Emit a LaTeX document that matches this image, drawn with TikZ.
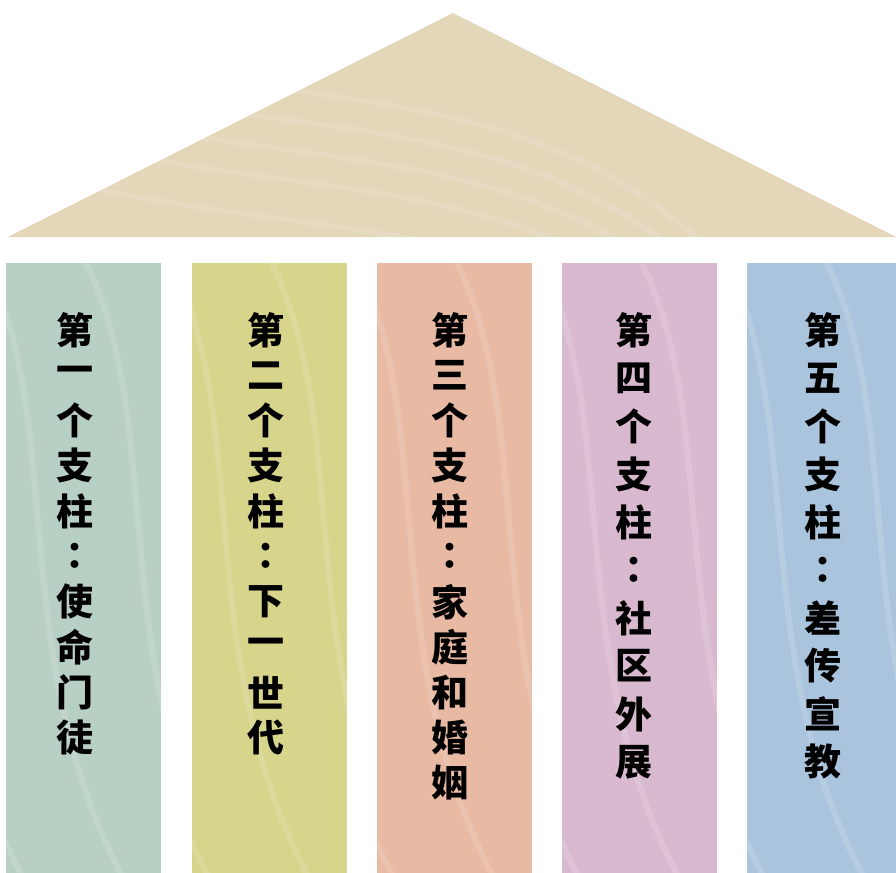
\documentclass[tikz,border=0pt]{standalone}
\usepackage{fontspec}
\newfontfamily\cjk{Noto Sans CJK SC}
\newfontfamily\cjktc{Noto Sans CJK TC}
\newcommand{\cnc}{{\cjktc ：}}
\definecolor{roofc}{HTML}{E3D6B9}
\definecolor{pgreen}{HTML}{B8CFC3}
\definecolor{pyellow}{HTML}{D6D58B}
\definecolor{porange}{HTML}{E8B9A3}
\definecolor{ppink}{HTML}{D9B9CF}
\definecolor{pblue}{HTML}{ABC4DD}
\tikzset{
  pillar/.style={inner sep=0pt,minimum height=305pt,fill=#1},
  zi/.style={inner sep=0pt,font=\cjk\bfseries\fontsize{18.5}{18.5}\selectfont},
  wave/.style={white,opacity=0.14,line width=3pt}
}
\begin{document}
\begin{tikzpicture}[x=0.5pt,y=-0.5pt]
  \useasboundingbox (0,0) rectangle (896,873);
  % roof
  \coordinate (rl) at (8,237);
  \coordinate (rt) at (453,13);
  \coordinate (rr) at (896,237);
  \fill[roofc] (rl) -- (rt) -- (rr) -- cycle;
  \begin{scope}
    \clip (rl) -- (rt) -- (rr) -- cycle;
    \foreach \dy in {0,30,60,90,130}
      \draw[wave] (100,{60+\dy}) .. controls (350,{110+\dy}) and (550,{90+\dy}) .. (720,{260+\dy});
  \end{scope}
  % pillars
  \node[pillar=pgreen,minimum width=77.5pt] (p1) at (83.5,568) {};
  \node[pillar=pyellow,minimum width=77.5pt] (p2) at (269.5,568) {};
  \node[pillar=porange,minimum width=77.5pt] (p3) at (454.5,568) {};
  \node[pillar=ppink,minimum width=77.5pt] (p4) at (639.5,568) {};
  \node[pillar=pblue,minimum width=74.5pt] (p5) at (821.5,568) {};
  \foreach \p in {p1,p2,p3,p4,p5} {
    \begin{scope}
      \clip (\p.south west) rectangle (\p.north east);
      \foreach \dx in {-60,-10,40,90}
        \draw[wave] ([xshift=\dx]\p.north west) .. controls ([xshift=\dx+40,yshift=-80]\p.north west) and ([xshift=\dx+10,yshift=-200]\p.north west) .. ([xshift=\dx+70,yshift=-310]\p.north west);
    \end{scope}
  }
  % texts
  \foreach \c [count=\i] in {第,一,个,支,柱,\cnc,使,命,门,徒}
    \node[zi] (a\i) at (75,{330+45.3*(\i-1)}) {\c};
  \foreach \c [count=\i] in {第,二,个,支,柱,\cnc,下,一,世,代}
    \node[zi] (b\i) at (266,{330+45.3*(\i-1)}) {\c};
  \foreach \c [count=\i] in {第,三,个,支,柱,\cnc,家,庭,和,婚,姻}
    \node[zi] (c\i) at (450,{330+45.3*(\i-1)}) {\c};
  \foreach \c [count=\i] in {第,四,个,支,柱,\cnc,社,区,外,展}
    \node[zi] (d\i) at (634,{330+48*(\i-1)}) {\c};
  \foreach \c [count=\i] in {第,五,个,支,柱,\cnc,差,传,宣,教}
    \node[zi] (e\i) at (823,{330+48*(\i-1)}) {\c};
\end{tikzpicture}
\end{document}
